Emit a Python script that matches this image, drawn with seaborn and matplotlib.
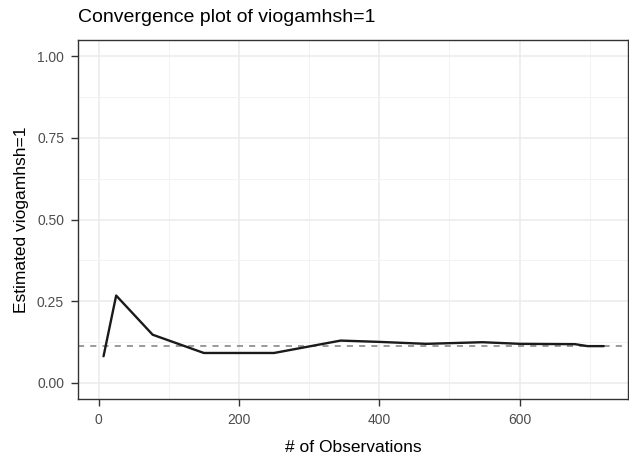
import matplotlib
matplotlib.use("Agg")
import matplotlib.pyplot as plt
from matplotlib.ticker import MultipleLocator
import seaborn as sns
import pandas as pd

n_obs = [7, 25, 77, 150, 250, 345, 400, 467, 547, 601, 679, 697, 720]
estimate = [0.081, 0.267, 0.147, 0.091, 0.091, 0.129, 0.125, 0.119, 0.124, 0.119, 0.118, 0.112, 0.112]
overall = 0.113
x_ticks = [0, 200, 400, 600]
y_ticks = [0.00, 0.25, 0.50, 0.75, 1.00]
y_tick_labels = ["0.00", "0.25", "0.50", "0.75", "1.00"]

df = pd.DataFrame({"n": n_obs, "est": estimate})

sns.set_theme(style="white")
plt.rcParams["font.family"] = ["Liberation Sans", "DejaVu Sans"]

W, H = 629, 462
fig = plt.figure(figsize=(W / 100, H / 100), dpi=100)
L, R, T, B = 78, 628, 40, 399
ax = fig.add_axes([L / W, 1 - B / H, (R - L) / W, (B - T) / H])

ax.set_xlim(-29.4, 754.6)
ax.set_ylim(-0.05, 1.05)
ax.set_xticks(x_ticks)
ax.xaxis.set_minor_locator(MultipleLocator(100))
ax.set_yticks(y_ticks)
ax.set_yticklabels(y_tick_labels)
ax.yaxis.set_minor_locator(MultipleLocator(0.125))

ax.grid(which="major", color="#EBEBEB", linewidth=1.1)
ax.grid(which="minor", color="#F2F2F2", linewidth=0.7)
ax.set_axisbelow(True)

ax.axhline(overall, color="#7F7F7F", linestyle=(0, (4, 4)), linewidth=1.1, zorder=2)
sns.lineplot(data=df, x="n", y="est", ax=ax, color="#1A1A1A", linewidth=1.7, zorder=3)

for s in ax.spines.values():
    s.set_color("#333333")
    s.set_linewidth(1.0)

ax.tick_params(which="major", axis="both", length=5, width=1.0, color="#333333",
               labelsize=10, labelcolor="#4D4D4D", direction="out", pad=5,
               bottom=True, left=True)
ax.tick_params(which="minor", length=0)

ax.set_xlabel("# of Observations", fontsize=12.5, color="black", va="center")
ax.set_ylabel("Estimated viogamhsh=1", fontsize=12.5, color="black", va="center")
ax.xaxis.set_label_coords(0.5, (B - 448) / (B - T))
ax.yaxis.set_label_coords((21.5 - L) / (R - L), 0.5)

fig.text(L / W, 1 - 17 / H, "Convergence plot of viogamhsh=1", fontsize=14,
         color="black", ha="left", va="center")

fig.savefig("out.png", dpi=100)
